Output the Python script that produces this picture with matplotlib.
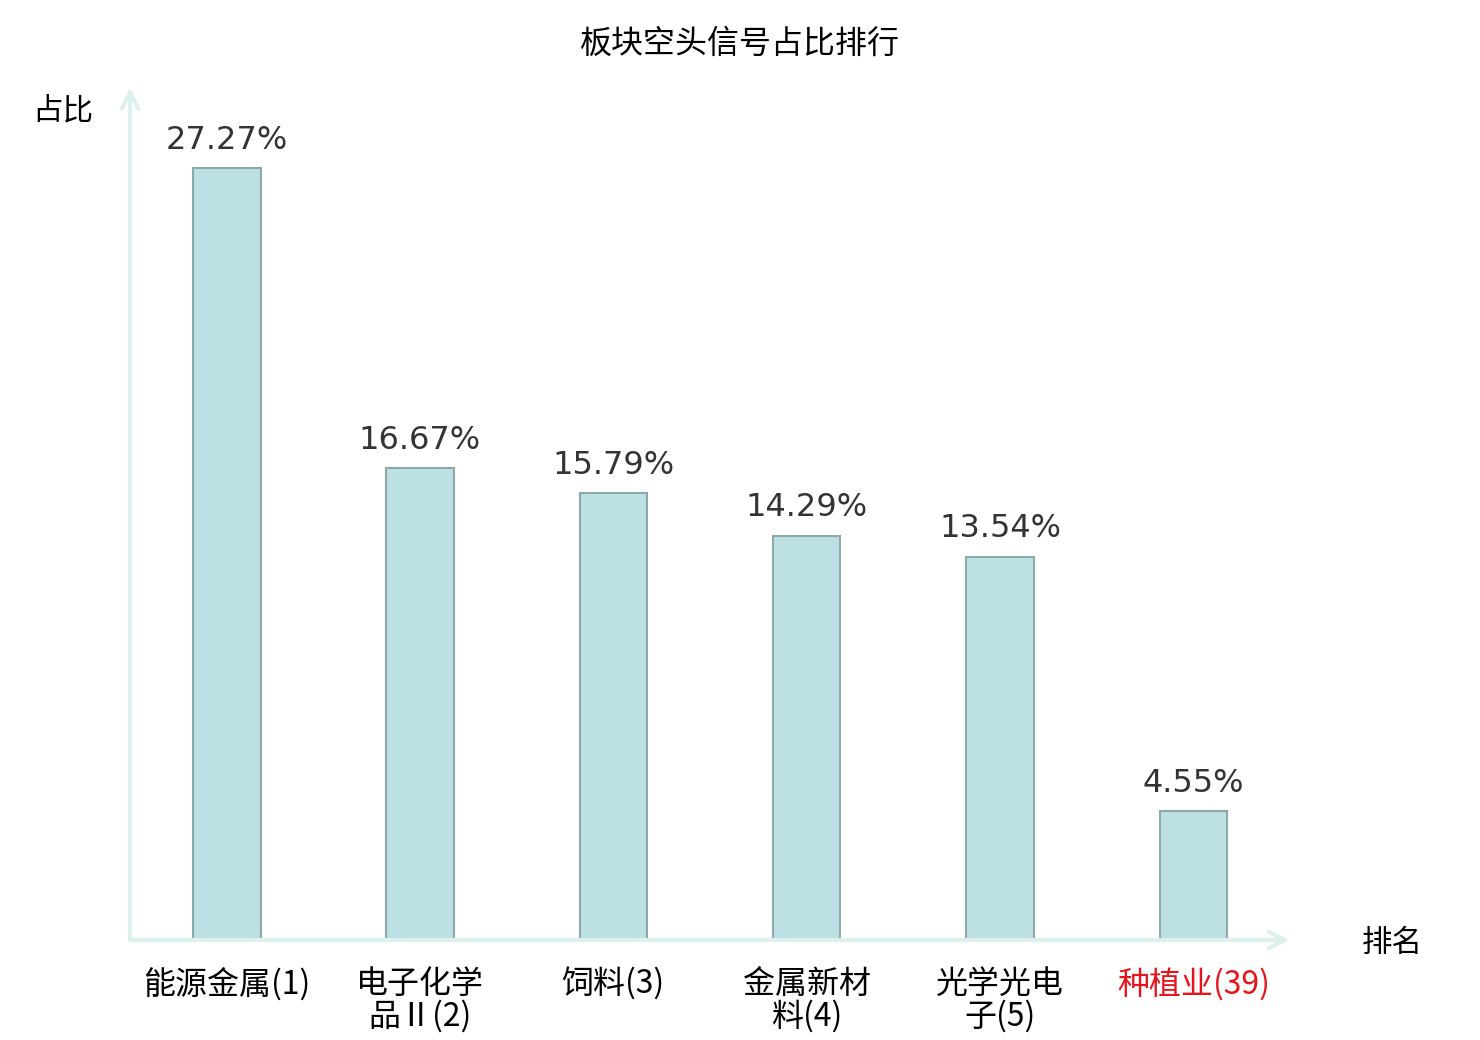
import matplotlib.pyplot as plt

plt.rcParams['font.family'] = ['Noto Sans CJK SC', 'DejaVu Sans']

# data
categories = ['能源金属(1)', '电子化学\n品Ⅱ(2)', '饲料(3)', '金属新材\n料(4)', '光学光电\n子(5)', '种植业(39)']
ratios = [27.27, 16.67, 15.79, 14.29, 13.54, 4.55]
value_labels = ['27.27%', '16.67%', '15.79%', '14.29%', '13.54%', '4.55%']
label_colors = ['black', 'black', 'black', 'black', 'black', '#e8141b']

fig = plt.figure(figsize=(14.8, 10.4), dpi=100)
ax = fig.add_axes([130 / 1480, 100 / 1040, 1160 / 1480, 849 / 1040])

x = list(range(len(categories)))
ax.bar(x, ratios, width=0.35, color='#bce0e3', edgecolor='#8ea9aa', linewidth=1.5, zorder=3)

# value labels above bars
for xi, v, lab in zip(x, ratios, value_labels):
    ax.annotate(lab, (xi, v), xytext=(0, 9), textcoords='offset points',
                ha='center', va='bottom', fontsize=23, color='#333333',
                family='DejaVu Sans')

ax.set_xlim(-0.5, 5.5)
ax.set_ylim(0, 30)

for s in ax.spines.values():
    s.set_visible(False)
ax.set_yticks([])
ax.set_xticks(x)
ax.set_xticklabels(categories, fontsize=23, linespacing=1.0)
ax.tick_params(axis='x', length=0, pad=20)
for t, c in zip(ax.get_xticklabels(), label_colors):
    t.set_color(c)

# axis arrows
axis_color = '#dcf1ee'
ax.annotate('', xy=(1.0, 0), xytext=(0, 0), xycoords='axes fraction',
            arrowprops=dict(arrowstyle='->', color=axis_color, lw=3,
                            mutation_scale=30, shrinkA=0, shrinkB=0),
            annotation_clip=False)
ax.annotate('', xy=(0, 1.004), xytext=(0, 0), xycoords='axes fraction',
            arrowprops=dict(arrowstyle='->', color=axis_color, lw=3,
                            mutation_scale=30, shrinkA=0, shrinkB=0),
            annotation_clip=False)

fig.text(740 / 1480, 1 - 44 / 1040, '板块空头信号占比排行', ha='center', va='center', fontsize=23)
fig.text(63 / 1480, 1 - 111 / 1040, '占比', ha='center', va='center', fontsize=22)
fig.text(1392 / 1480, 1 - 943 / 1040, '排名', ha='center', va='center', fontsize=22)

fig.savefig('out.png', dpi=100)
